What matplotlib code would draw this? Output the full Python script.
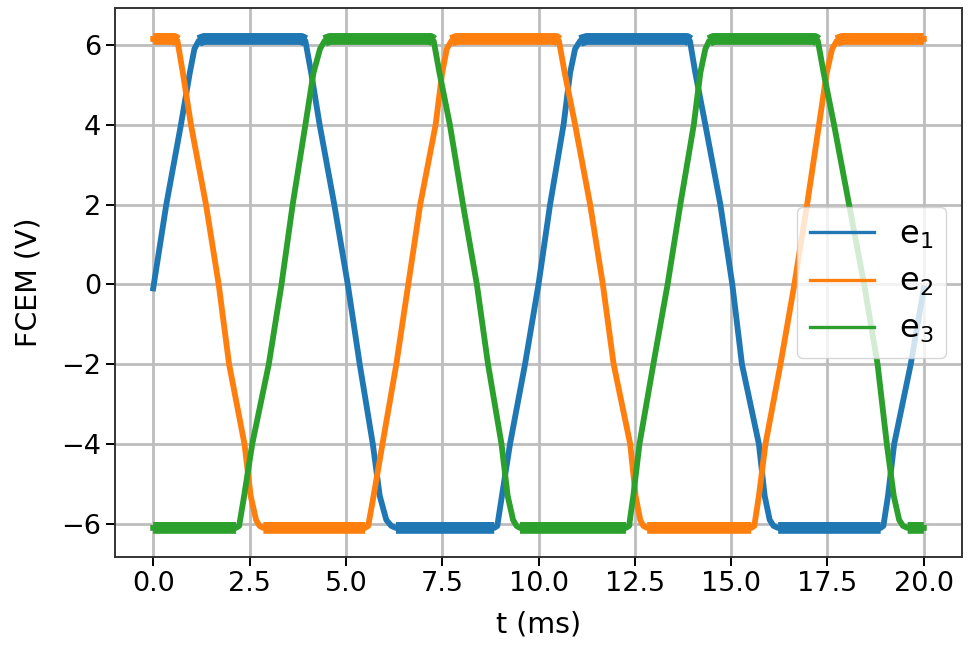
import numpy as np
import matplotlib
matplotlib.use('Agg')
import matplotlib.pyplot as plt

# keypoints (t in ms, FCEM in V)
t_e1 = [0.0, 0.34, 0.72, 0.95, 1.07, 1.18, 1.32,
        3.85, 3.95, 4.1, 4.32, 4.7, 5.05, 5.36, 5.7, 5.88, 6.05, 6.18, 6.3,
        8.85, 8.93, 9.05, 9.26, 9.65, 10.0, 10.3, 10.65, 10.82, 10.95, 11.08, 11.25,
        13.85, 13.93, 14.07, 14.33, 14.72, 15.03, 15.28, 15.72, 15.87, 16.0, 16.1, 16.22,
        18.88, 18.95, 19.07, 19.23, 19.66, 20.0]
v_e1 = [-0.1, 2.0, 4.0, 5.3, 5.9, 6.1, 6.15,
        6.15, 6.1, 5.3, 4.0, 2.0, 0.0, -2.0, -4.0, -5.3, -5.9, -6.05, -6.1,
        -6.1, -6.05, -5.3, -4.0, -2.0, 0.0, 2.0, 4.0, 5.3, 5.9, 6.1, 6.15,
        6.15, 6.1, 5.3, 4.0, 2.0, 0.0, -2.0, -4.0, -5.3, -5.9, -6.05, -6.1,
        -6.1, -6.05, -5.3, -4.0, -2.0, -0.1]

t_e2 = [0.0, 0.55, 0.63, 0.77, 0.98, 1.37, 1.7, 1.97, 2.37, 2.53, 2.67, 2.76, 2.86,
        5.5, 5.58, 5.72, 5.95, 6.31, 6.62, 6.93, 7.33, 7.5, 7.62, 7.74, 7.87,
        10.45, 10.53, 10.68, 10.95, 11.34, 11.67, 11.95, 12.38, 12.52, 12.64, 12.72, 12.82,
        15.52, 15.6, 15.72, 15.89, 16.28, 16.64, 16.97, 17.28, 17.48, 17.62, 17.74, 17.88,
        20.0]
v_e2 = [6.15, 6.15, 6.1, 5.3, 4.0, 2.0, 0.0, -2.0, -4.0, -5.3, -5.9, -6.05, -6.1,
        -6.1, -6.05, -5.3, -4.0, -2.0, 0.0, 2.0, 4.0, 5.3, 5.9, 6.1, 6.15,
        6.15, 6.1, 5.3, 4.0, 2.0, 0.0, -2.0, -4.0, -5.3, -5.9, -6.05, -6.1,
        -6.1, -6.05, -5.3, -4.0, -2.0, 0.0, 2.0, 4.0, 5.3, 5.9, 6.1, 6.15,
        6.15]

t_e3 = [0.0, 2.15, 2.23, 2.36, 2.57, 3.0, 3.33, 3.62, 3.95, 4.16, 4.33, 4.45, 4.58,
        7.2, 7.28, 7.43, 7.7, 8.04, 8.4, 8.69, 9.04, 9.2, 9.34, 9.43, 9.52,
        12.27, 12.35, 12.46, 12.62, 12.98, 13.35, 13.68, 14.03, 14.2, 14.33, 14.43, 14.54,
        17.17, 17.25, 17.4, 17.67, 18.06, 18.45, 18.8, 19.04, 19.22, 19.36, 19.46, 19.58,
        20.0]
v_e3 = [-6.1, -6.1, -6.05, -5.3, -4.0, -2.0, 0.0, 2.0, 4.0, 5.3, 5.9, 6.1, 6.15,
        6.15, 6.1, 5.3, 4.0, 2.0, 0.0, -2.0, -4.0, -5.3, -5.9, -6.05, -6.1,
        -6.1, -6.05, -5.3, -4.0, -2.0, 0.0, 2.0, 4.0, 5.3, 5.9, 6.1, 6.15,
        6.15, 6.1, 5.3, 4.0, 2.0, 0.0, -2.0, -4.0, -5.3, -5.9, -6.05, -6.1,
        -6.1]

series = [(t_e1, v_e1, r'$\mathrm{e}_1$', '#1f77b4'),
          (t_e2, v_e2, r'$\mathrm{e}_2$', '#ff7f0e'),
          (t_e3, v_e3, r'$\mathrm{e}_3$', '#2ca02c')]

plt.rcParams['font.size'] = 19.5
plt.rcParams['axes.linewidth'] = 1.4
plt.rcParams['xtick.major.width'] = 1.4
plt.rcParams['ytick.major.width'] = 1.4
plt.rcParams['xtick.major.size'] = 6.3
plt.rcParams['ytick.major.size'] = 6.3

fig = plt.figure(figsize=(9.8, 6.5), dpi=100)
ax = fig.add_axes([0.117, 0.143, 0.865, 0.845])

for t, v, name, color in series:
    t = np.array(t)
    v = np.array(v)
    ax.plot(t, v, color=color, lw=4.2, label=name)
    # the noisy plateaus look thicker in the reference
    flat = np.where(np.abs(v) >= 6.1, v, np.nan)
    ax.plot(t, flat, color=color, lw=8.5, solid_capstyle='butt')

ax.set_ylim(-6.83, 6.93)
ax.grid(True, color='#bdbdbd', lw=2.0)
ax.set_xlabel('t (ms)', fontsize=20.5, labelpad=10)
ax.set_ylabel('FCEM (V)', fontsize=20.5, labelpad=13)
for s in ax.spines.values():
    s.set_color('#333333')

leg = ax.legend(loc='center right', fontsize=23)
for h in leg.get_lines():
    h.set_linewidth(2.4)

fig.savefig('out.png', dpi=100)
